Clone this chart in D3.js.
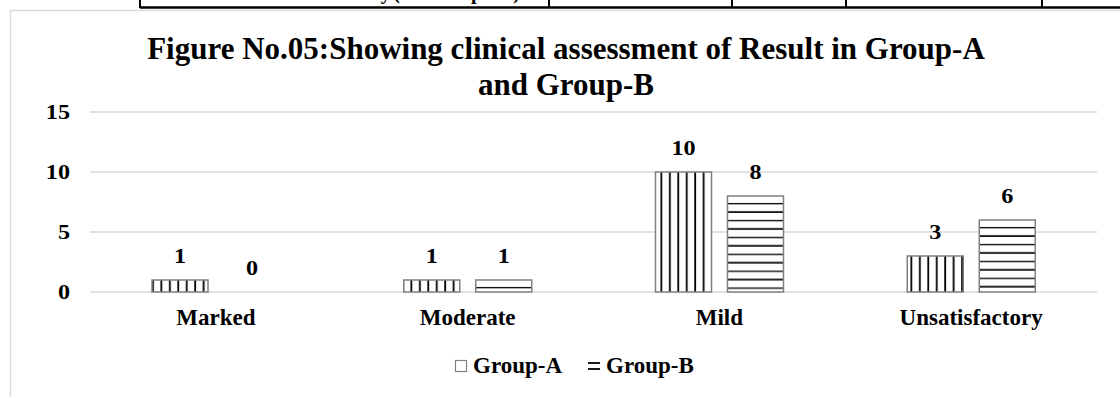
<!DOCTYPE html>
<html><head><meta charset="utf-8">
<script src="https://cdn.jsdelivr.net/npm/d3@7"></script>
<style>
html,body{margin:0;padding:0;background:#fff;overflow:hidden;}
svg{display:block;font-family:"Liberation Serif","Times New Roman",serif;font-weight:bold;}
</style></head>
<body>
<svg id="c" width="1120" height="397"></svg>
<script>
const categories = ["Marked","Moderate","Mild","Unsatisfactory"];
const groupA = [1,1,10,3];
const groupB = [0,1,8,6];
const seriesNames = ["Group-A","Group-B"];
const yTicks = [0,5,10,15];
const titleLines = ["Figure No.05:Showing clinical assessment of Result in Group-A","and Group-B"];

const svg = d3.select("#c");
const defs = svg.append("defs");

function stretch(sel, sx){
  sel.each(function(){
    const w = this.getComputedTextLength();
    d3.select(this).attr("textLength", w*sx).attr("lengthAdjust","spacingAndGlyphs");
  });
}

// top table fragment
svg.append("line").attr("x1",140).attr("x2",1120).attr("y1",7.5).attr("y2",7.5).attr("stroke","#000").attr("stroke-width",2.5);
[140,549,732,846,1042].forEach(x=>{
  svg.append("line").attr("x1",x).attr("x2",x).attr("y1",0).attr("y2",8).attr("stroke","#000").attr("stroke-width",2);
});
svg.append("text").attr("x",330).attr("y",-1).attr("font-size",20).text("Efficacy (Good Response)").attr("textLength",190);

// chart border
svg.append("path").attr("d","M10.5,397 V10.5 H1120").attr("fill","none").attr("stroke","#d9d9d9").attr("stroke-width",1.5);

// title
svg.append("g").selectAll("text").data(titleLines).join("text")
  .attr("x",566).attr("y",(d,i)=>59+i*35.5).attr("text-anchor","middle")
  .attr("font-size",31).attr("fill","#000").text(d=>d);

const x0 = d3.scaleBand().domain(categories).range([90,1097]).paddingInner(0).paddingOuter(0);
const x1 = d3.scaleBand().domain(seriesNames).range([62,190]).paddingInner(0.222);
const y = d3.scaleLinear().domain([0,15]).range([292,112]);

// gridlines
svg.append("g").selectAll("line").data(yTicks).join("line")
  .attr("x1",90).attr("x2",1097).attr("y1",d=>y(d)).attr("y2",d=>y(d))
  .attr("stroke","#d9d9d9").attr("stroke-width",1.5);

const FS = 21, SX = 1.15;

// y axis labels
const yAxis = d3.axisLeft(y).tickValues(yTicks).tickSize(0).tickPadding(0);
const gy = svg.append("g").attr("transform","translate(70,0)").call(yAxis);
gy.select(".domain").remove();
gy.selectAll("text").attr("font-size",FS).attr("font-family","Liberation Serif").attr("font-weight","bold").attr("fill","#000").attr("dy","0.33em");
stretch(gy.selectAll("text"), SX);

// bars with per-bar hatch patterns
const data = categories.map((c,i)=>({c, vals:[{s:"Group-A",v:groupA[i],i},{s:"Group-B",v:groupB[i],i}]}));
data.forEach(d=>d.vals.forEach(e=>{
  const bx = x0(d.c)+x1(e.s), by = y(e.v);
  const id = `p${e.s==="Group-A"?"A":"B"}${e.i}`;
  e.pid = id;
  if(e.s==="Group-A"){
    const p = defs.append("pattern").attr("id",id).attr("patternUnits","userSpaceOnUse")
      .attr("x",bx).attr("y",0).attr("width",8.45).attr("height",10);
    p.append("rect").attr("width",8.45).attr("height",10).attr("fill","#fff");
    p.append("rect").attr("x",3).attr("width",1.8).attr("height",10).attr("fill","#000");
  } else {
    const p = defs.append("pattern").attr("id",id).attr("patternUnits","userSpaceOnUse")
      .attr("x",0).attr("y",by).attr("width",10).attr("height",16.9);
    p.append("rect").attr("width",10).attr("height",16.9).attr("fill","#fff");
    p.append("rect").attr("y",7).attr("height",1.3).attr("width",10).attr("fill","#000");
    p.append("rect").attr("y",15.2).attr("height",2).attr("width",10).attr("fill","#000");
  }
}));
const gc = svg.append("g").selectAll("g").data(data).join("g")
  .attr("transform",d=>`translate(${x0(d.c)},0)`);
gc.selectAll("rect").data(d=>d.vals.filter(e=>e.v>0)).join("rect")
  .attr("x",d=>x1(d.s)).attr("width",x1.bandwidth())
  .attr("y",d=>y(d.v)).attr("height",d=>y(0)-y(d.v))
  .attr("fill",d=>`url(#${d.pid})`)
  .attr("stroke","#808080").attr("stroke-width",1.5);
const vl = gc.selectAll("text").data(d=>d.vals).join("text")
  .attr("x",d=>x1(d.s)+x1.bandwidth()/2).attr("y",d=>y(d.v)-17)
  .attr("text-anchor","middle").attr("font-size",FS).attr("fill","#000").text(d=>d.v);
stretch(vl, SX);

// x axis labels
const xAxis = d3.axisBottom(x0).tickSize(0).tickPadding(0);
const gx = svg.append("g").attr("transform","translate(0,325)").call(xAxis);
gx.select(".domain").remove();
gx.selectAll("text").attr("font-size",23).attr("font-family","Liberation Serif").attr("font-weight","bold").attr("fill","#000").attr("dy","0");

// legend
const leg = svg.append("g");
leg.append("rect").attr("x",455.5).attr("y",360.5).attr("width",11).attr("height",11).attr("fill","#fff").attr("stroke","#808080").attr("stroke-width",1.2);
leg.append("text").attr("x",473).attr("y",373).attr("font-size",23).text(seriesNames[0]);
leg.append("line").attr("x1",588).attr("x2",600).attr("y1",363).attr("y2",363).attr("stroke","#000").attr("stroke-width",1.8);
leg.append("line").attr("x1",588).attr("x2",600).attr("y1",369).attr("y2",369).attr("stroke","#000").attr("stroke-width",1.8);
leg.append("text").attr("x",606).attr("y",373).attr("font-size",23).text(seriesNames[1]);
</script>
</body></html>
